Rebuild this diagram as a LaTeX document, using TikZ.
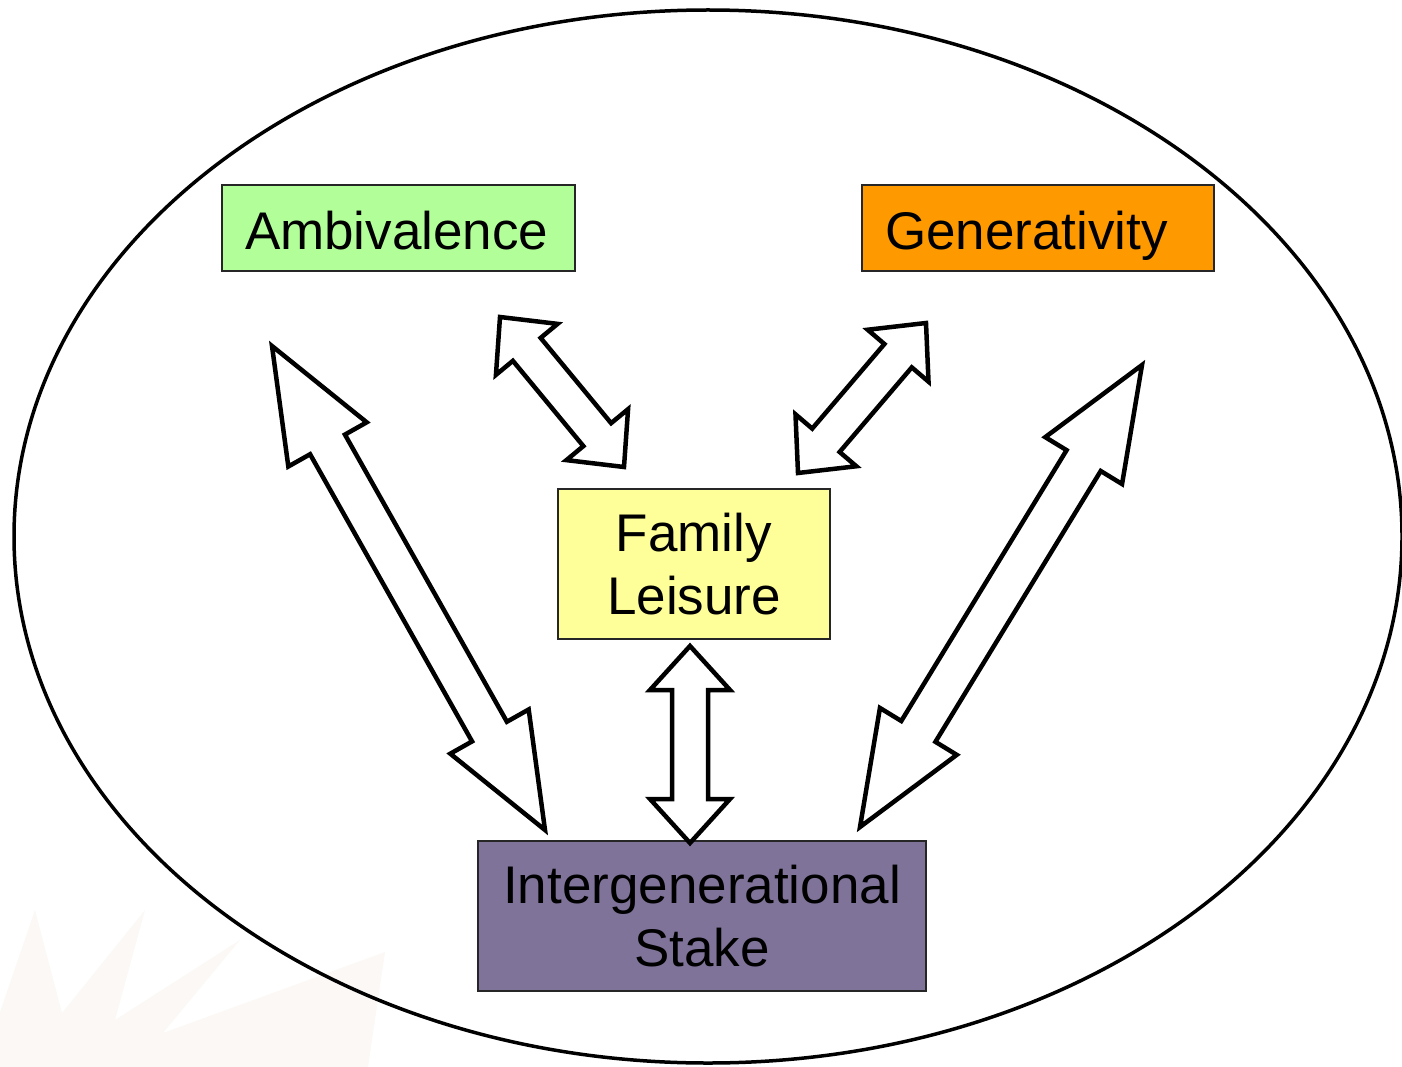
\documentclass[tikz,border=0pt]{standalone}
\usepackage{fontspec}
\setmainfont{Liberation Sans}
\usetikzlibrary{calc}
\definecolor{ambgreen}{HTML}{B2FF99}
\definecolor{genorange}{HTML}{FF9900}
\definecolor{famyellow}{HTML}{FFFF99}
\definecolor{stakepurple}{HTML}{807399}
\definecolor{wmark}{HTML}{FBF8F5}
\tikzset{
  conceptbox/.style={draw=black!85, line width=2pt, inner sep=0pt,
    font=\fontsize{53}{63}\selectfont},
  topbox/.style={conceptbox, minimum height=86pt, inner xsep=23pt,
    align=left, text height=44pt, text depth=0pt},
  blockarrow/.style={draw=black, fill=white, line width=4.5pt, line join=miter},
  frame/.style={draw=black, line width=3.5pt}
}
% #1 from, #2 to, #3 head length, #4 half head width, #5 half shaft width
\newcommand\dblblockarrow[5]{%
  \draw[blockarrow] (#1)
    -- ($(#1)!#3!(#2)!#4!90:(#2)$)
    -- ($(#1)!#3!(#2)!#5!90:(#2)$)
    -- ($(#2)!#3!(#1)!#5!-90:(#1)$)
    -- ($(#2)!#3!(#1)!#4!-90:(#1)$)
    -- (#2)
    -- ($(#2)!#3!(#1)!#4!90:(#1)$)
    -- ($(#2)!#3!(#1)!#5!90:(#1)$)
    -- ($(#1)!#3!(#2)!#5!-90:(#2)$)
    -- ($(#1)!#3!(#2)!#4!-90:(#2)$)
    -- cycle;}
\begin{document}
\begin{tikzpicture}[x=1pt,y=-1pt]
\useasboundingbox (0,0) rectangle (1402,1067);
% faint watermark
\fill[wmark] (0,1012) -- (35,910) -- (62,1013) -- (145,910) -- (115,1020)
  -- (240,940) -- (163,1033) -- (385,952) -- (368,1067) -- (0,1067) -- cycle;
% enclosing ellipse
\draw[frame] (708,536.5) ellipse [x radius=694, y radius=526.5];
% concept boxes
\node[topbox, fill=ambgreen, text width=307pt] (amb) at (398.5,228) {Ambivalence};
\node[topbox, fill=genorange, text width=306pt] (gen) at (1038,228) {Generativity};
\node[conceptbox, fill=famyellow, minimum width=272pt, minimum height=150pt,
  align=center] (fam) at (694,564) {Family\\Leisure};
\node[conceptbox, fill=stakepurple, minimum width=448pt, minimum height=150pt,
  align=center] (stake) at (702,916) {Intergenerational\\Stake};
% arrow end points
\coordinate (lA) at (272,346);  \coordinate (lB) at (545,830);
\coordinate (aA) at (500,317);  \coordinate (aB) at (624,467);
\coordinate (gA) at (926,323);  \coordinate (gB) at (798,473);
\coordinate (rA) at (1142,365); \coordinate (rB) at (860,827);
\coordinate (vA) at (690,646);  \coordinate (vB) at (690,843);
% block double arrows
\dblblockarrow{lA}{lB}{113pt}{45pt}{20pt}
\dblblockarrow{aA}{aB}{42pt}{40pt}{18pt}
\dblblockarrow{gA}{gB}{43pt}{40pt}{18pt}
\dblblockarrow{rA}{rB}{112pt}{45pt}{20pt}
\dblblockarrow{vA}{vB}{44pt}{40pt}{18pt}
\end{tikzpicture}
\end{document}
